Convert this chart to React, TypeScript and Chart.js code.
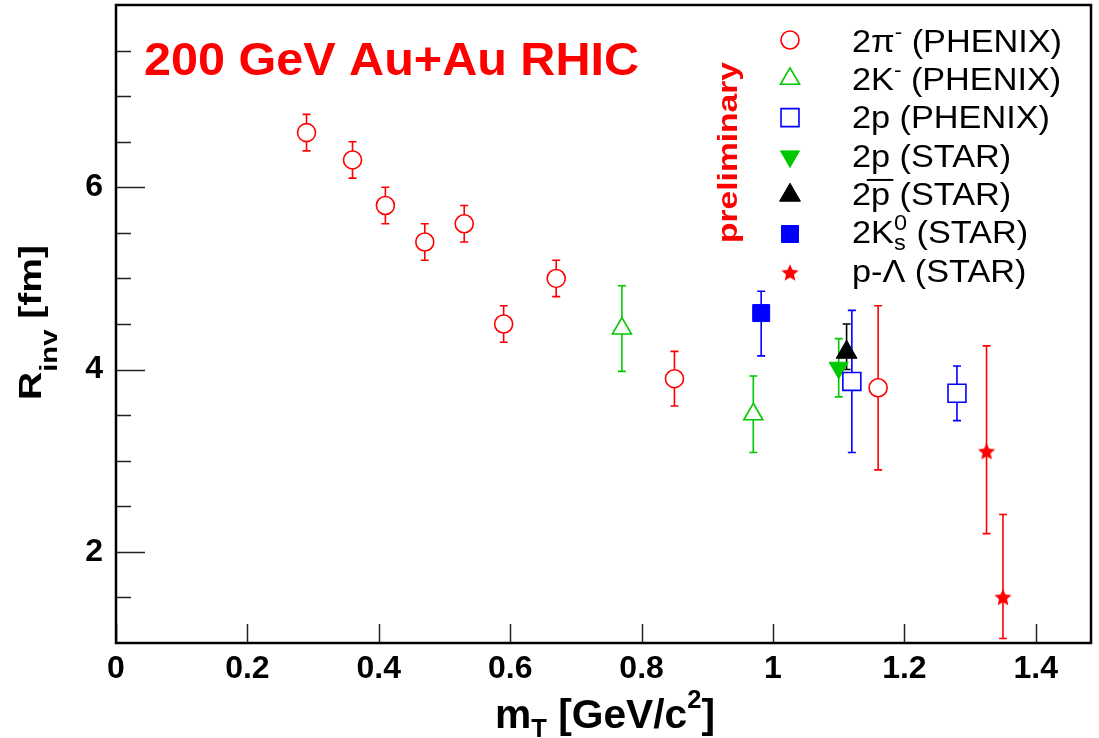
import React, { useEffect, useRef } from 'react';
import { Chart, registerables } from 'chart.js';

Chart.register(...registerables);

const FONT = '"Liberation Sans", Arial, Helvetica, sans-serif';
const RED = '#ff0000';
const GREEN = '#00c800';
const BLUE = '#0000ff';
const BLACK = '#000000';

// ---- data (m_T in GeV/c^2, R_inv in fm) ----
const pionMt = [0.29, 0.36, 0.41, 0.47, 0.53, 0.59, 0.67, 0.85, 1.16];
const pionR = [6.6, 6.3, 5.8, 5.4, 5.6, 4.5, 5.0, 3.9, 3.8];
const pionErr = [0.2, 0.2, 0.2, 0.2, 0.2, 0.2, 0.2, 0.3, 0.9];

const kaonMt = [0.77, 0.97];
const kaonR = [4.45, 3.51];
const kaonErr = [0.47, 0.42];

const phenixPMt = [1.12, 1.28];
const phenixPR = [3.87, 3.74];
const phenixPErr = [0.78, 0.3];

const starPMt = [1.1];
const starPR = [4.02];
const starPErr = [0.32];

const starPbarMt = [1.112];
const starPbarR = [4.19];
const starPbarErrUp = [0.31];
const starPbarErrDown = [0.19];

const k0sMt = [0.982];
const k0sR = [4.62];
const k0sErrUp = [0.24];
const k0sErrDown = [0.47];

const pLambdaMt = [1.325, 1.35];
const pLambdaR = [3.1, 1.5];
const pLambdaErrUp = [1.16, 0.91];
const pLambdaErrDown = [0.9, 0.45];

const xTickValues = [0, 0.2, 0.4, 0.6, 0.8, 1.0, 1.2, 1.4];
const xTickLabels = ['0', '0.2', '0.4', '0.6', '0.8', '1', '1.2', '1.4'];
const yTickValues = [2, 4, 6];
const yTickLabels = ['2', '4', '6'];
const yMinorTickValues = [1.5, 2.5, 3, 3.5, 4.5, 5, 5.5, 6.5, 7, 7.5];

type Seg = { t: string; size: number; bold?: boolean; dy?: number; stack?: boolean; over?: boolean };

function layoutSegs(ctx: CanvasRenderingContext2D, segs: Seg[]) {
  let cx = 0;
  let prevStart = 0;
  let prevW = 0;
  const pos: { start: number; w: number }[] = [];
  for (const s of segs) {
    ctx.font = `${s.bold ? 'bold ' : ''}${s.size}px ${FONT}`;
    const w = ctx.measureText(s.t).width;
    let start: number;
    if (s.stack) {
      start = prevStart;
      cx = prevStart + Math.max(prevW, w);
    } else {
      start = cx;
      cx += w;
    }
    pos.push({ start, w });
    prevStart = start;
    prevW = w;
  }
  return { pos, total: cx };
}

function drawRich(
  ctx: CanvasRenderingContext2D,
  segs: Seg[],
  x: number,
  y: number,
  color: string,
  align: 'left' | 'center',
  targetWidth?: number,
  stretch = 1
) {
  const { pos, total } = layoutSegs(ctx, segs);
  const sx = targetWidth ? targetWidth / total : stretch;
  ctx.save();
  ctx.translate(x, y);
  ctx.scale(sx, 1);
  const off = align === 'center' ? -total / 2 : 0;
  ctx.fillStyle = color;
  ctx.strokeStyle = color;
  ctx.textBaseline = 'alphabetic';
  ctx.textAlign = 'left';
  segs.forEach((s, i) => {
    ctx.font = `${s.bold ? 'bold ' : ''}${s.size}px ${FONT}`;
    ctx.fillText(s.t, off + pos[i].start, s.dy || 0);
    if (s.over) {
      ctx.lineWidth = 2;
      ctx.beginPath();
      const oy = -s.size * 0.78;
      ctx.moveTo(off + pos[i].start - 4, oy);
      ctx.lineTo(off + pos[i].start + pos[i].w + 3, oy);
      ctx.stroke();
    }
  });
  ctx.restore();
}

function makeStar(color: string) {
  const c = document.createElement('canvas');
  c.width = 22;
  c.height = 22;
  const g = c.getContext('2d')!;
  g.fillStyle = color;
  g.beginPath();
  for (let k = 0; k < 10; k++) {
    const r = k % 2 === 0 ? 9 : 4.2;
    const a = (Math.PI / 5) * k;
    const px = 11 + Math.sin(a) * r;
    const py = 11.5 - Math.cos(a) * r;
    if (k === 0) g.moveTo(px, py);
    else g.lineTo(px, py);
  }
  g.closePath();
  g.fill();
  return c;
}

function drawMarker(ctx: CanvasRenderingContext2D, ds: any, x: number, y: number) {
  ctx.save();
  const style = ds.pointStyle;
  if (typeof style === 'object') {
    ctx.drawImage(style, x - style.width / 2, y - style.height / 2);
    ctx.restore();
    return;
  }
  const r = ds.pointRadius;
  ctx.fillStyle = ds.pointBackgroundColor;
  ctx.strokeStyle = ds.pointBorderColor;
  ctx.lineWidth = ds.pointBorderWidth;
  ctx.beginPath();
  if (style === 'circle') {
    ctx.arc(x, y, r, 0, Math.PI * 2);
  } else if (style === 'rect') {
    const s = Math.SQRT1_2 * r;
    ctx.rect(x - s, y - s, 2 * s, 2 * s);
  } else if (style === 'triangle') {
    let a = ((ds.pointRotation || 0) * Math.PI) / 180;
    ctx.moveTo(x + Math.sin(a) * r, y - Math.cos(a) * r);
    a += (2 * Math.PI) / 3;
    ctx.lineTo(x + Math.sin(a) * r, y - Math.cos(a) * r);
    a += (2 * Math.PI) / 3;
    ctx.lineTo(x + Math.sin(a) * r, y - Math.cos(a) * r);
    ctx.closePath();
  }
  ctx.fill();
  if (ds.pointBorderWidth > 0) ctx.stroke();
  ctx.restore();
}

const legendTexts: Seg[][] = [
  [{ t: '2\u03c0', size: 32 }, { t: '-', size: 21, dy: -13 }, { t: ' (PHENIX)', size: 32 }],
  [{ t: '2K', size: 32 }, { t: '-', size: 21, dy: -13 }, { t: ' (PHENIX)', size: 32 }],
  [{ t: '2p (PHENIX)', size: 32 }],
  [{ t: '2p (STAR)', size: 32 }],
  [{ t: '2', size: 32 }, { t: 'p', size: 32, over: true }, { t: ' (STAR)', size: 32 }],
  [
    { t: '2K', size: 32 },
    { t: '0', size: 22, dy: -13 },
    { t: 's', size: 22, dy: 7, stack: true },
    { t: ' (STAR)', size: 32 },
  ],
  [{ t: 'p-\u039b (STAR)', size: 32 }],
];

const errorBarPlugin = {
  id: 'errorBars',
  beforeDatasetsDraw(chart: any) {
    const { ctx, chartArea, scales } = chart;
    const xs = scales.x;
    const ys = scales.y;
    ctx.save();
    ctx.beginPath();
    ctx.rect(chartArea.left, chartArea.top, chartArea.right - chartArea.left, chartArea.bottom - chartArea.top);
    ctx.clip();
    ctx.lineWidth = 1.6;
    chart.data.datasets.forEach((ds: any) => {
      ctx.strokeStyle = ds.pointBorderColor;
      ds.data.forEach((p: any, i: number) => {
        const px = xs.getPixelForValue(p.x);
        const py = ys.getPixelForValue(p.y);
        const top = ys.getPixelForValue(p.y + ds.errUp[i]);
        const bot = ys.getPixelForValue(p.y - ds.errDown[i]);
        ctx.beginPath();
        if (top < py - ds.gapUp) {
          ctx.moveTo(px, top);
          ctx.lineTo(px, py - ds.gapUp);
        }
        if (bot > py + ds.gapDown) {
          ctx.moveTo(px, py + ds.gapDown);
          ctx.lineTo(px, bot);
        }
        ctx.moveTo(px - 4, top);
        ctx.lineTo(px + 4, top);
        ctx.moveTo(px - 4, bot);
        ctx.lineTo(px + 4, bot);
        ctx.stroke();
      });
    });
    ctx.restore();
  },
};

const framePlugin = {
  id: 'frame',
  afterDraw(chart: any) {
    const { ctx, chartArea, scales } = chart;
    const { left, right, top, bottom } = chartArea;
    ctx.save();
    ctx.strokeStyle = '#222';
    ctx.lineWidth = 1.5;
    ctx.beginPath();
    yTickValues.forEach((v) => {
      const py = Math.round(scales.y.getPixelForValue(v)) + 0.5;
      ctx.moveTo(left, py);
      ctx.lineTo(left + 29, py);
    });
    yMinorTickValues.forEach((v) => {
      const py = Math.round(scales.y.getPixelForValue(v)) + 0.5;
      ctx.moveTo(left, py);
      ctx.lineTo(left + 15, py);
    });
    xTickValues.forEach((v) => {
      const px = Math.round(scales.x.getPixelForValue(v)) + 0.5;
      ctx.moveTo(px, bottom);
      ctx.lineTo(px, bottom - 19);
    });
    ctx.stroke();
    ctx.strokeStyle = '#000';
    ctx.lineWidth = 2.5;
    ctx.strokeRect(left, top, right - left, bottom - top);
    ctx.restore();
  },
};

const textPlugin = {
  id: 'texts',
  afterDraw(chart: any) {
    const ctx: CanvasRenderingContext2D = chart.ctx;
    // title
    drawRich(ctx, [{ t: '200 GeV Au+Au RHIC', size: 46, bold: true }], 144, 75, RED, 'left', 495);
    // preliminary (rotated)
    ctx.save();
    ctx.translate(737, 152.5);
    ctx.rotate(-Math.PI / 2);
    drawRich(ctx, [{ t: 'preliminary', size: 28, bold: true }], 0, 0, RED, 'center', 181);
    ctx.restore();
    // y axis title
    ctx.save();
    ctx.translate(41, 322.5);
    ctx.rotate(-Math.PI / 2);
    drawRich(
      ctx,
      [
        { t: 'R', size: 32, bold: true },
        { t: 'inv', size: 24, bold: true, dy: 16 },
        { t: ' [fm]', size: 32, bold: true },
      ],
      0,
      0,
      BLACK,
      'center',
      155
    );
    ctx.restore();
    // x axis title
    drawRich(
      ctx,
      [
        { t: 'm', size: 40, bold: true },
        { t: 'T', size: 25, bold: true, dy: 9 },
        { t: ' [GeV/c', size: 40, bold: true },
        { t: '2', size: 25, bold: true, dy: -20 },
        { t: ']', size: 40, bold: true },
      ],
      495,
      728,
      BLACK,
      'left',
      220
    );
    // legend
    chart.data.datasets.forEach((ds: any, i: number) => {
      const my = 40 + 38.8 * i;
      drawMarker(ctx, ds, 790, my);
      drawRich(ctx, legendTexts[i], 852, 51.7 + 38.3 * i, BLACK, 'left', undefined, 1.07);
    });
  },
};

function pts(xs: number[], ys: number[]) {
  return xs.map((x, i) => ({ x, y: ys[i] }));
}

export default function App() {
  const ref = useRef<HTMLCanvasElement | null>(null);
  useEffect(() => {
    if (!ref.current) return;
    const star = makeStar(RED);
    const datasets: any[] = [
      {
        label: '2pi- (PHENIX)',
        data: pts(pionMt, pionR),
        errUp: pionErr,
        errDown: pionErr,
        gapUp: 9,
        gapDown: 9,
        pointStyle: 'circle',
        pointRadius: 9,
        pointBorderWidth: 1.6,
        pointBorderColor: RED,
        pointBackgroundColor: 'rgba(0,0,0,0)',
        order: 0,
      },
      {
        label: '2K- (PHENIX)',
        data: pts(kaonMt, kaonR),
        errUp: kaonErr,
        errDown: kaonErr,
        gapUp: 11,
        gapDown: 5.5,
        pointStyle: 'triangle',
        pointRadius: 11,
        pointBorderWidth: 1.6,
        pointBorderColor: GREEN,
        pointBackgroundColor: 'rgba(0,0,0,0)',
        order: 1,
      },
      {
        label: '2p (PHENIX)',
        data: pts(phenixPMt, phenixPR),
        errUp: phenixPErr,
        errDown: phenixPErr,
        gapUp: 9,
        gapDown: 9,
        pointStyle: 'rect',
        pointRadius: 12.7,
        pointBorderWidth: 1.6,
        pointBorderColor: BLUE,
        pointBackgroundColor: 'rgba(0,0,0,0)',
        order: 2,
      },
      {
        label: '2p (STAR)',
        data: pts(starPMt, starPR),
        errUp: starPErr,
        errDown: starPErr,
        gapUp: 0,
        gapDown: 0,
        pointStyle: 'triangle',
        pointRotation: 180,
        rotation: 180,
        pointRadius: 11,
        pointBorderWidth: 1,
        pointBorderColor: GREEN,
        pointBackgroundColor: GREEN,
        order: 3,
      },
      {
        label: '2pbar (STAR)',
        data: pts(starPbarMt, starPbarR),
        errUp: starPbarErrUp,
        errDown: starPbarErrDown,
        gapUp: 0,
        gapDown: 0,
        pointStyle: 'triangle',
        pointRadius: 12,
        pointBorderWidth: 1,
        pointBorderColor: BLACK,
        pointBackgroundColor: BLACK,
        order: -1,
      },
      {
        label: '2K0s (STAR)',
        data: pts(k0sMt, k0sR),
        errUp: k0sErrUp,
        errDown: k0sErrDown,
        gapUp: 0,
        gapDown: 0,
        pointStyle: 'rect',
        pointRadius: 12,
        pointBorderWidth: 1,
        pointBorderColor: BLUE,
        pointBackgroundColor: BLUE,
        order: 5,
      },
      {
        label: 'p-Lambda (STAR)',
        data: pts(pLambdaMt, pLambdaR),
        errUp: pLambdaErrUp,
        errDown: pLambdaErrDown,
        gapUp: 0,
        gapDown: 0,
        pointStyle: star,
        pointRadius: 9,
        pointBorderWidth: 0,
        pointBorderColor: RED,
        pointBackgroundColor: RED,
        order: 6,
      },
    ];

    const chart = new Chart(ref.current, {
      type: 'scatter',
      data: { datasets },
      options: {
        animation: false,
        responsive: false,
        devicePixelRatio: 1,
        layout: { autoPadding: false, padding: { left: 0, right: 8, top: 5, bottom: 0 } },
        plugins: { legend: { display: false }, tooltip: { enabled: false } },
        elements: { point: { hoverRadius: 9 } },
        scales: {
          x: {
            type: 'linear',
            min: 0,
            max: 1.484,
            grid: { display: false, drawTicks: false },
            border: { display: false },
            afterBuildTicks: (s: any) => {
              s.ticks = xTickValues.map((v) => ({ value: v }));
            },
            afterFit: (s: any) => {
              s.height = 95;
              s.paddingLeft = 0;
              s.paddingRight = 0;
            },
            ticks: {
              autoSkip: false,
              maxRotation: 0,
              padding: 7,
              color: '#000',
              font: { family: FONT, size: 32, weight: 'bold' },
              callback: (_v: any, i: number) => xTickLabels[i],
            },
          },
          y: {
            type: 'linear',
            min: 1,
            max: 8,
            grid: { display: false, drawTicks: false },
            border: { display: false },
            afterBuildTicks: (s: any) => {
              s.ticks = yTickValues.map((v) => ({ value: v }));
            },
            afterFit: (s: any) => {
              s.width = 116;
              s.paddingTop = 0;
              s.paddingBottom = 0;
            },
            ticks: {
              autoSkip: false,
              padding: 13,
              color: '#000',
              font: { family: FONT, size: 32, weight: 'bold' },
              callback: (_v: any, i: number) => yTickLabels[i],
            },
          },
        },
      } as any,
      plugins: [errorBarPlugin, framePlugin, textPlugin],
    });
    return () => chart.destroy();
  }, []);

  return (
    <div style={{ position: 'fixed', left: 0, top: 0, width: 1099, height: 738, background: '#fff' }}>
      <canvas ref={ref} width={1099} height={738} style={{ display: 'block', width: 1099, height: 738 }} />
    </div>
  );
}
